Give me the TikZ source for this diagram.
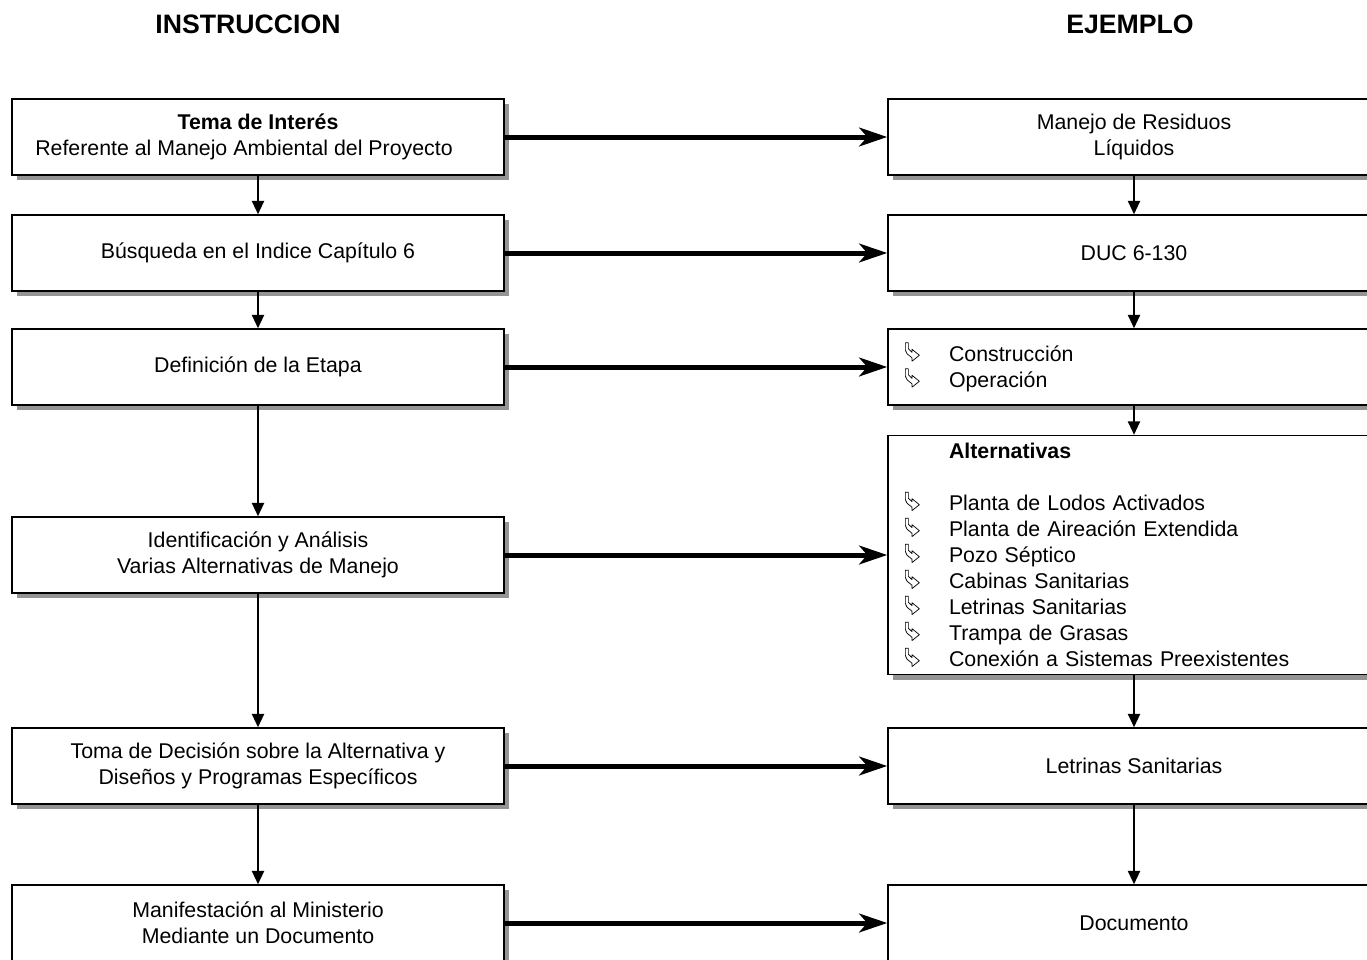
\documentclass[tikz,border=0pt]{standalone}
\usepackage{fontspec}
\setmainfont{Liberation Sans}
\usetikzlibrary{arrows.meta,shadows}

% bullet: hollow arrow turning right
\newcommand{\flecha}{\tikz[x=1.25pt,y=1.25pt,line width=0.55pt,baseline=-0.5pt]{%
	\draw[fill=white,line join=round] (0.6,10.6) -- (2.4,10.6) -- (2.4,7) -- (4.6,4.9) -- (4.6,6.7) -- (9,3.1) -- (4.6,-0.4) -- (4.6,1.6) -- (1.6,4.0) -- (0.6,6.2) -- cycle;}}

\begin{document}
\begin{tikzpicture}
	% Styles
	[
	x=0.75pt, y=-0.75pt,
	caja/.style={draw, line width=1.1pt, fill=white, minimum width=369pt, minimum height=57pt, inner sep=4pt,
		align=center, font=\fontsize{16}{19.5}\selectfont,
		drop shadow={shadow xshift=3.75pt, shadow yshift=-3.75pt, fill=black!42, opacity=1}},
	lista/.style={caja, align=left, text width=343.5pt, inner xsep=12.75pt},
	titulo/.style={font=\fontsize{20}{24}\bfseries\selectfont},
	vflecha/.style={line width=1.5pt, -{Triangle[length=10pt,width=9pt]}},
	hflecha/.style={line width=3.75pt, -{Stealth[length=21pt,width=14pt,inset=6pt]}},
	]
	\useasboundingbox (0,0) rectangle (1367,960);

	% Headers
	\node at (248,24)	(tinst)	[titulo] {INSTRUCCION};
	\node at (1130,24)	(tejem)	[titulo] {EJEMPLO};

	% Nodes (instruccion)
	\node at (258,137)	(i1)	[caja] {\textbf{Tema de Interés}\\Referente al Manejo Ambiental del Proyecto\hspace*{21pt}};
	\node at (258,253)	(i2)	[caja] {Búsqueda en el Indice Capítulo 6};
	\node at (258,367)	(i3)	[caja] {Definición de la Etapa};
	\node at (258,555)	(i4)	[caja] {Identificación y Análisis\\Varias Alternativas de Manejo};
	\node at (258,766)	(i5)	[caja] {Toma de Decisión sobre la Alternativa y\\Diseños y Programas Específicos};
	\node at (258,923)	(i6)	[caja] {Manifestación al Ministerio\\Mediante un Documento};

	% Nodes (ejemplo)
	\node at (1134,137)	(e1)	[caja] {Manejo de Residuos\\Líquidos};
	\node at (1134,253)	(e2)	[caja] {DUC 6-130};
	\node at (1134,367)	(e3)	[lista] {\makebox[33pt][l]{\flecha}Construcción\\\makebox[33pt][l]{\flecha}Operación};
	\node at (1134,555)	(e4)	[lista, minimum height=179.25pt] {\hspace*{33pt}\textbf{Alternativas}\\[19.5pt]
		\makebox[33pt][l]{\flecha}Planta de Lodos Activados\\
		\makebox[33pt][l]{\flecha}Planta de Aireación Extendida\\
		\makebox[33pt][l]{\flecha}Pozo Séptico\\
		\makebox[33pt][l]{\flecha}Cabinas Sanitarias\\
		\makebox[33pt][l]{\flecha}Letrinas Sanitarias\\
		\makebox[33pt][l]{\flecha}Trampa de Grasas\\
		\makebox[33pt][l]{\flecha}Conexión a Sistemas Preexistentes};
	\node at (1134,766)	(e5)	[caja] {Letrinas Sanitarias};
	\node at (1134,923)	(e6)	[caja] {Documento};

	% Connections
	\foreach \a/\b in {i1/i2, i2/i3, i3/i4, i4/i5, i5/i6, e1/e2, e2/e3, e3/e4, e4/e5, e5/e6}
		\draw[vflecha] (\a) -- (\b);
	\foreach \n in {1,...,6}
		\draw[hflecha] (i\n) -- (e\n);

\end{tikzpicture}
\end{document}
